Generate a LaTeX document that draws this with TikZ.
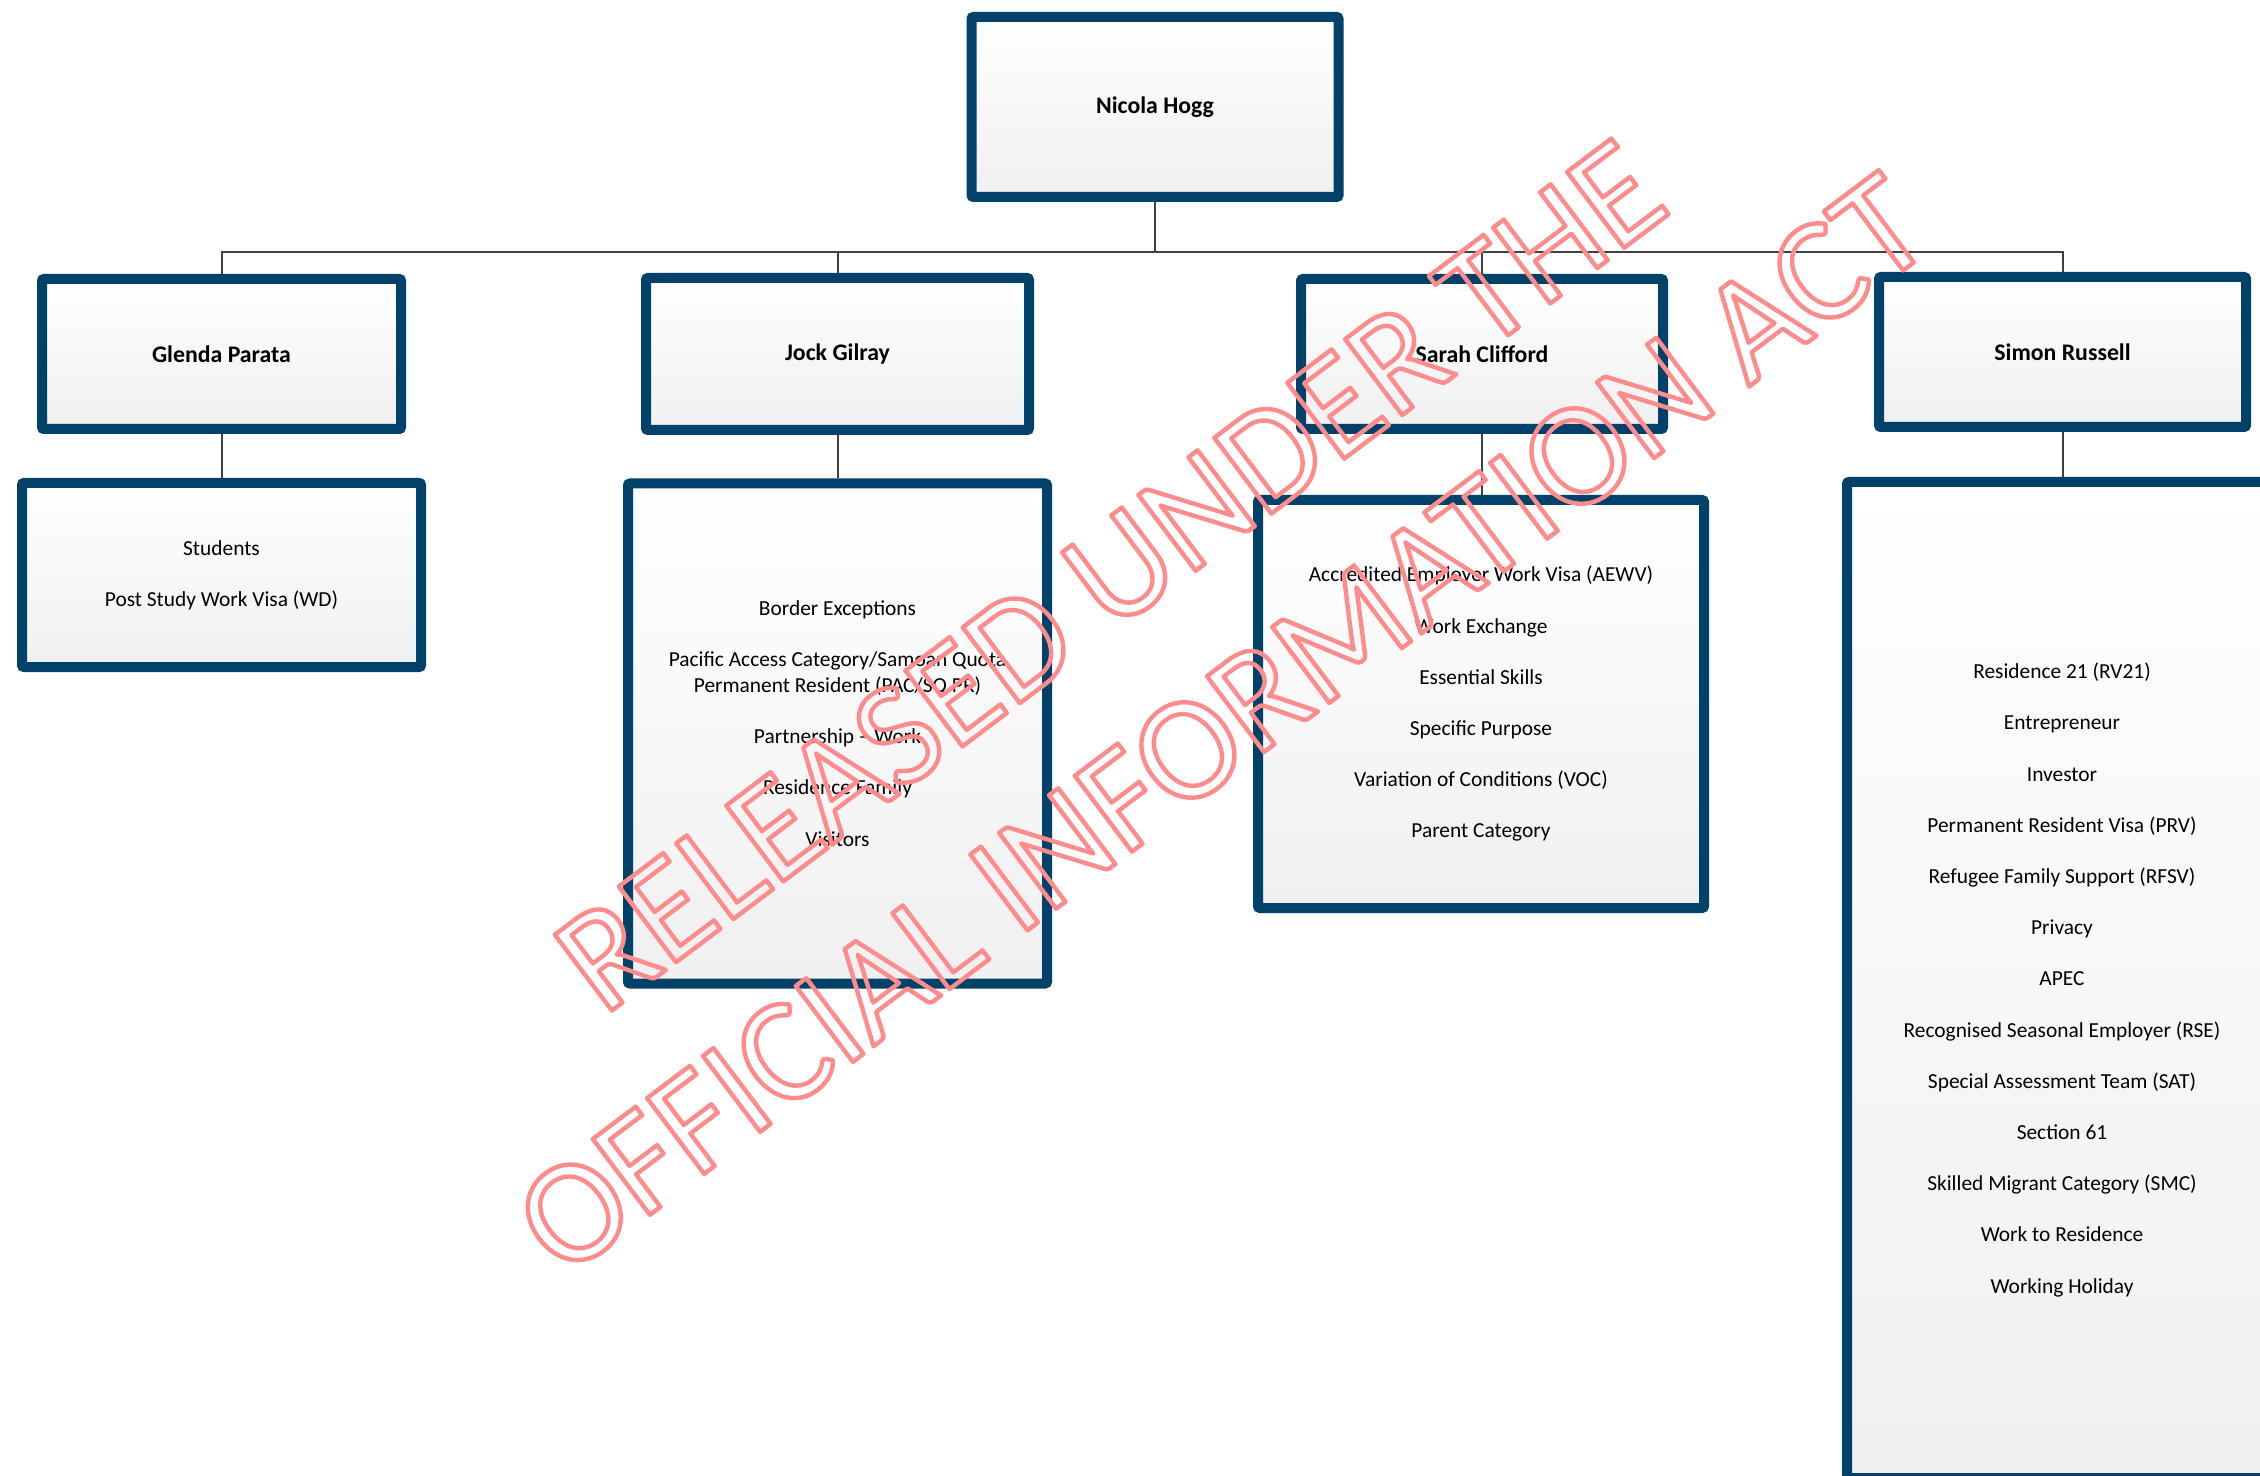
\documentclass[tikz,border=0pt]{standalone}
\usepackage{fontspec}
\setmainfont{Carlito}
\usetikzlibrary{shadows}
\definecolor{boxblue}{HTML}{02426A}
\definecolor{connc}{HTML}{404040}
\definecolor{wmpink}{RGB}{255,140,140}
\newcommand{\wmoutline}[1]{\special{pdf:literal direct 1 Tr 2.2 w 1 j 1 J}#1\special{pdf:literal direct 0 Tr}}
\begin{document}
\begin{tikzpicture}[x=0.5pt,y=-0.5pt,
  box/.style={draw=boxblue, line width=5pt, rounded corners=1pt,
    top color=white, bottom color=black!6,
    drop shadow={shadow xshift=1.2pt, shadow yshift=-1.2pt, fill=black!25, opacity=0.6},
    inner sep=0pt, font=\bfseries\fontsize{11.9}{14}\selectfont},
  listtext/.style={align=center, inner sep=0pt, font=\fontsize{10.7}{12.8}\selectfont},
  conn/.style={draw=connc, line width=1pt},
  wm/.style={text=wmpink, align=center, inner sep=0pt, font=\fontsize{74}{93}\selectfont}]
\useasboundingbox (0,0) rectangle (2260,1476);
\fill[white] (0,0) rectangle (2260,1476);

% level 1
\node[box, minimum width=183.5pt, minimum height=90pt] (nicola) at (1155,107) {Nicola Hogg};
% level 2
\node[box, minimum width=179.5pt, minimum height=75pt] (glenda) at (221.5,354) {Glenda Parata};
\node[box, minimum width=191.5pt, minimum height=76pt] (jock) at (837.5,354) {Jock Gilray};
\node[box, minimum width=181pt, minimum height=75pt] (sarah) at (1482,354) {Sarah Clifford};
\node[box, minimum width=183.5pt, minimum height=75pt] (simon) at (2062.5,352) {Simon Russell};

% level 3 boxes
\node[box, minimum width=199.5pt, minimum height=92pt] (studbox) at (221.5,575) {};
\node[box, minimum width=209.5pt, minimum height=250pt] (jockbox) at (837.5,733.5) {};
\node[box, minimum width=223pt, minimum height=204pt] (sarahbox) at (1481,704) {};
\node[box, minimum width=215pt, minimum height=498pt] (simonbox) at (2062,980) {};

\node[listtext] (studtext) at (studbox.center) {Students\\[12.8pt]Post Study Work Visa (WD)};
\node[listtext] (jocktext) at ([yshift=5pt]jockbox.center) {Border Exceptions\\[12.8pt]Pacific Access Category/Samoan Quota\\Permanent Resident (PAC/SQ PR)\\[12.8pt]Partnership – Work\\[12.8pt]Residence Family\\[12.8pt]Visitors};
\node[listtext] (sarahtext) at (sarahbox.center) {Accredited Employer Work Visa (AEWV)\\[12.8pt]Work Exchange\\[12.8pt]Essential Skills\\[12.8pt]Specific Purpose\\[12.8pt]Variation of Conditions (VOC)\\[12.8pt]Parent Category};
\node[listtext] (simontext) at (simonbox.center) {Residence 21 (RV21)\\[12.8pt]Entrepreneur\\[12.8pt]Investor\\[12.8pt]Permanent Resident Visa (PRV)\\[12.8pt]Refugee Family Support (RFSV)\\[12.8pt]Privacy\\[12.8pt]APEC\\[12.8pt]Recognised Seasonal Employer (RSE)\\[12.8pt]Special Assessment Team (SAT)\\[12.8pt]Section 61\\[12.8pt]Skilled Migrant Category (SMC)\\[12.8pt]Work to Residence\\[12.8pt]Working Holiday};

% connectors
\coordinate (hub) at (1155,252);
\draw[conn] (nicola.south) -- (hub);
\draw[conn] (glenda.north) |- (hub);
\draw[conn] (jock.north) |- (hub);
\draw[conn] (sarah.north) |- (hub);
\draw[conn] (simon.north) |- (hub);
\draw[conn] (glenda.south) -- (studbox.north);
\draw[conn] (jock.south) -- (jockbox.north);
\draw[conn] (sarah.south) -- (sarah.south |- sarahbox.north);
\draw[conn] (simon.south) -- (simon.south |- simonbox.north);

% watermark
\node[wm, rotate=37] (wm) at (1166,650) {\wmoutline{RELEASED UNDER THE\\OFFICIAL INFORMATION ACT}};
\end{tikzpicture}
\end{document}
